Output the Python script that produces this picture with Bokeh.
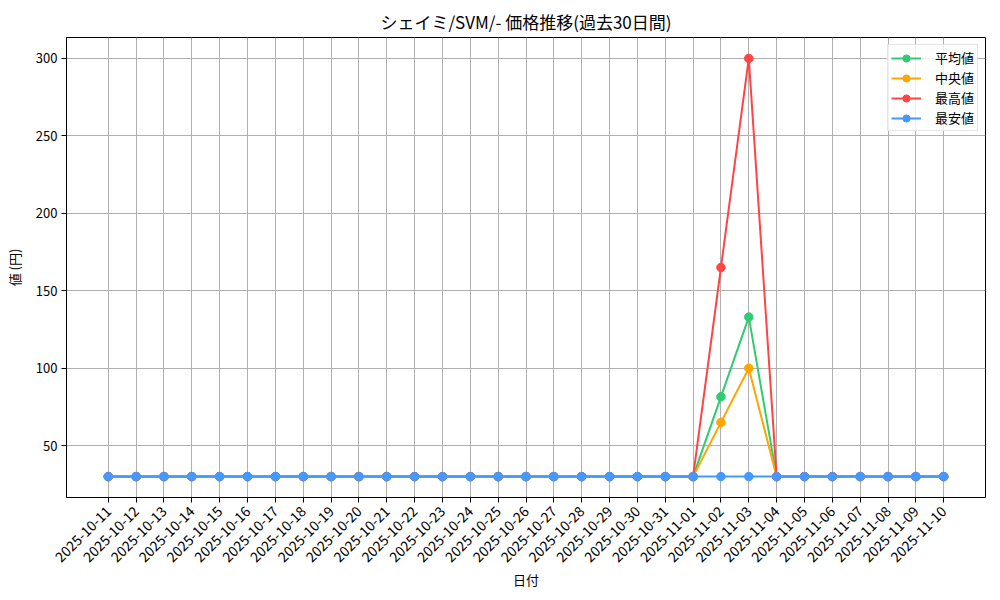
import math
from bokeh.plotting import figure
from bokeh.models import Range1d, FixedTicker, Legend, LegendItem
from bokeh.embed import file_html
from bokeh.resources import INLINE

FONT = "Noto Sans CJK JP"

dates = [
    "2025-10-11", "2025-10-12", "2025-10-13", "2025-10-14", "2025-10-15",
    "2025-10-16", "2025-10-17", "2025-10-18", "2025-10-19", "2025-10-20",
    "2025-10-21", "2025-10-22", "2025-10-23", "2025-10-24", "2025-10-25",
    "2025-10-26", "2025-10-27", "2025-10-28", "2025-10-29", "2025-10-30",
    "2025-10-31", "2025-11-01", "2025-11-02", "2025-11-03", "2025-11-04",
    "2025-11-05", "2025-11-06", "2025-11-07", "2025-11-08", "2025-11-09",
    "2025-11-10",
]
avg_vals = [30] * 22 + [81.5, 133] + [30] * 7
median_vals = [30] * 22 + [65, 100] + [30] * 7
max_vals = [30] * 22 + [165, 300] + [30] * 7
min_vals = [30] * 31
y_ticks = [50, 100, 150, 200, 250, 300]

series = [
    ("平均値", avg_vals, "#2ecc71"),
    ("中央値", median_vals, "#ffa500"),
    ("最高値", max_vals, "#ff4444"),
    ("最安値", min_vals, "#4499ff"),
]

xs = list(range(len(dates)))

p = figure(
    width=992, height=592,
    output_backend="svg", toolbar_location=None,
    x_range=Range1d(-1.5, len(dates) - 1 + 1.5),
    y_range=Range1d(16.5, 313.5),
    min_border_left=66, min_border_right=7,
    min_border_top=37, min_border_bottom=95,
    title="シェイミ/SVM/- 価格推移(過去30日間)",
)
p.background_fill_color = "white"
p.border_fill_color = "white"
p.outline_line_color = "black"
p.outline_line_width = 1

p.title.align = "center"
p.title.text_font = FONT
p.title.text_font_size = "17px"
p.title.text_font_style = "normal"
p.title.text_color = "black"
p.title.standoff = 7

items = []
for name, vals, color in series:
    r1 = p.line(xs, vals, line_color=color, line_width=2)
    r2 = p.scatter(xs, vals, marker="circle", size=8.5, fill_color=color, line_color=color)
    items.append(LegendItem(label=name, renderers=[r1, r2]))

legend = Legend(items=items, location="top_right")
legend.label_text_font = FONT
legend.label_text_font_size = "13px"
legend.label_text_color = "black"
legend.border_line_color = "#cccccc"
legend.border_line_width = 1
legend.background_fill_alpha = 0.8
legend.padding = 3
legend.spacing = 1
legend.margin = 7
legend.glyph_width = 30
legend.glyph_height = 18
legend.label_height = 18
legend.label_standoff = 14
p.add_layout(legend)

p.xaxis.ticker = FixedTicker(ticks=xs)
p.xaxis.major_label_overrides = {i: d for i, d in enumerate(dates)}
p.xaxis.major_label_orientation = math.pi / 4
p.yaxis.ticker = FixedTicker(ticks=y_ticks)

for ax in (p.xaxis, p.yaxis):
    ax.axis_line_color = "black"
    ax.major_tick_line_color = "black"
    ax.major_tick_out = 5
    ax.major_tick_in = 0
    ax.minor_tick_line_color = None
    ax.major_label_text_font = FONT
    ax.major_label_text_color = "black"
    ax.axis_label_text_font = FONT
    ax.axis_label_text_font_size = "13px"
    ax.axis_label_text_font_style = "normal"
    ax.axis_label_text_color = "black"

p.xaxis.major_label_text_font_size = "14px"
p.yaxis.major_label_text_font_size = "13px"
p.xaxis.major_label_standoff = 6
p.yaxis.major_label_standoff = 4

p.xaxis.axis_label = "日付"
p.yaxis.axis_label = "値 (円)"
p.xaxis.axis_label_standoff = 0
p.yaxis.axis_label_standoff = 9

p.xgrid.grid_line_color = "#b0b0b0"
p.ygrid.grid_line_color = "#b0b0b0"
p.xgrid.grid_line_width = 1
p.ygrid.grid_line_width = 1

open("out.html", "w").write(file_html(p, INLINE))
